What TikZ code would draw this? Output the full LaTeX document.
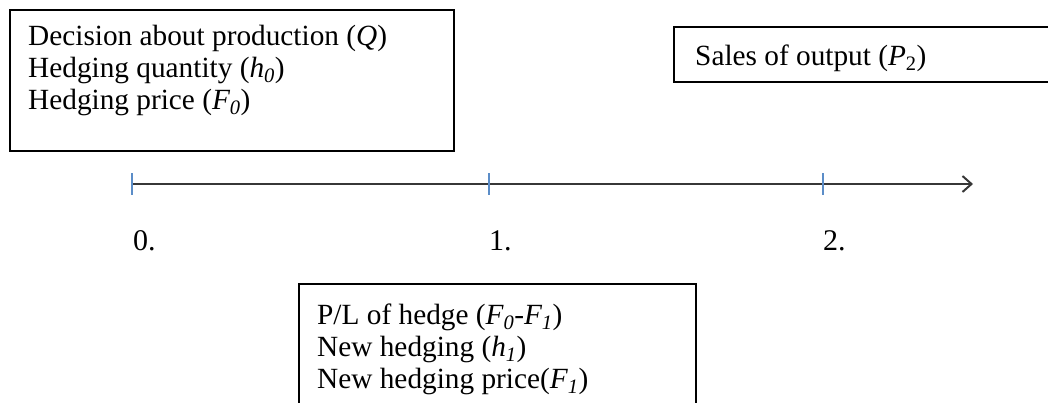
\documentclass[tikz,border=0pt]{standalone}
\usepackage{fontspec}
\setmainfont{Liberation Serif}
\usetikzlibrary{arrows.meta}
\definecolor{tickblue}{RGB}{91,141,200}
\definecolor{axisgray}{RGB}{55,55,55}
\tikzset{
  frame/.style={draw=black, line width=1.8pt, inner sep=0pt, anchor=north west},
  txt/.style={inner sep=0pt, anchor=north west, align=left, font=\fontsize{29.3}{32}\selectfont},
  lbl/.style={inner sep=0pt, anchor=north west, font=\fontsize{30}{34}\selectfont},
  tickmark/.style={draw=tickblue, line width=1.4pt},
  axis/.style={draw=axisgray, line width=2.4pt, -{Straight Barb[length=9pt,width=16pt,line width=2pt]}}
}
\begin{document}
\begin{tikzpicture}[x=1pt,y=-1pt]
\useasboundingbox (0,0) rectangle (1048,403);
\clip (0,0) rectangle (1048,403);
% boxes
\node[frame, minimum width=444pt, minimum height=141pt] (b0) at (9,9) {};
\node[txt] (t0) at (28,24.5) {Decision about production (\textit{Q})\\Hedging quantity (\textit{h\textsubscript{0}})\\Hedging price (\textit{F\textsubscript{0}})};
\node[frame, minimum width=420pt, minimum height=55pt] (b2) at (673,26) {};
\node[txt] (t2) at (695,44.5) {Sales of output (\textit{P}\textsubscript{2})};
\node[frame, minimum width=397pt, minimum height=140pt] (b1) at (298,283) {};
\node[txt] (t1) at (317,303.5) {P/L of hedge (\textit{F\textsubscript{0}}-\textit{F\textsubscript{1}})\\New hedging (\textit{h\textsubscript{1}})\\New hedging price(\textit{F\textsubscript{1}})};
% timeline
\coordinate (s0) at (132,184);
\coordinate (s1) at (489,184);
\coordinate (s2) at (823,184);
\coordinate (e) at (973,184);
\draw[axis] (s0) -- (e);
\foreach \c in {s0,s1,s2}{\draw[tickmark] ([yshift=-11pt]\c) -- ([yshift=11pt]\c);}
\node[lbl] (l0) at (133,230) {0.};
\node[lbl] (l1) at (489,230) {1.};
\node[lbl] (l2) at (823,230) {2.};
\end{tikzpicture}
\end{document}
